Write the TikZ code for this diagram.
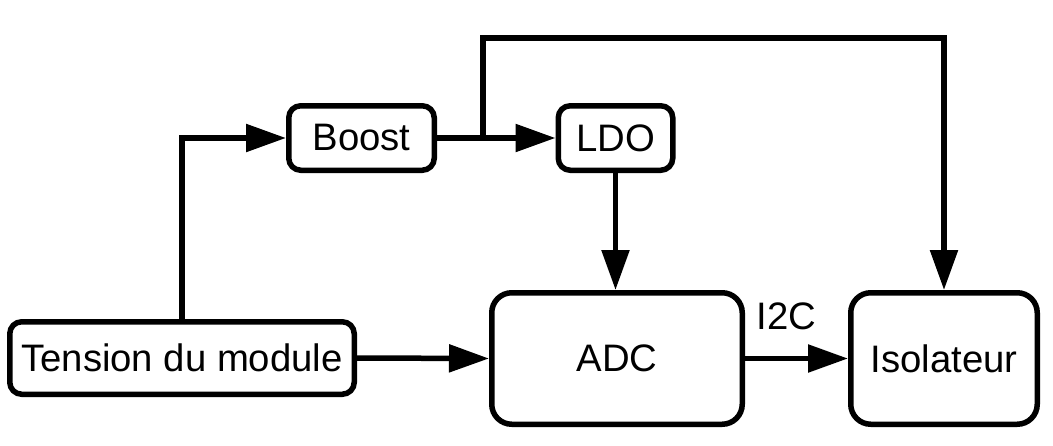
\documentclass[tikz,border=0pt]{standalone}
\usepackage{fontspec}
\setmainfont{Liberation Sans}
\usetikzlibrary{arrows.meta}
\begin{document}
\begin{tikzpicture}[x=1pt,y=-1pt,
  box/.style={draw,line width=5.5pt,inner sep=0pt,align=center,
    font=\fontsize{38.3}{44}\selectfont},
  smallbox/.style={box,rounded corners=12pt},
  bigbox/.style={box,rounded corners=20pt},
  conn/.style={line width=5.5pt,line join=miter,line cap=butt},
  arr/.style={conn,-{Triangle[length=40pt,width=27pt]}},
  lbl/.style={inner sep=0pt,font=\fontsize{38.3}{44}\selectfont}]
\useasboundingbox (0,0) rectangle (1053,445);
\node[smallbox,minimum width=344.5pt,minimum height=72.5pt] (tension) at (182,358) {Tension du module};
\node[smallbox,minimum width=145.5pt,minimum height=64.5pt] (boost) at (361.5,138) {Boost};
\node[smallbox,minimum width=114.5pt,minimum height=64.5pt] (ldo) at (615.5,138) {LDO};
\node[bigbox,minimum width=250.5pt,minimum height=131.5pt] (adc) at (617,358.5) {ADC};
\node[bigbox,minimum width=186.5pt,minimum height=131.5pt] (iso) at (944,358.5) {Isolateur};
\coordinate (b1) at (483,138);
\coordinate (b2) at (483,38);
\draw[arr] (tension.north) |- (boost.west);
\draw[arr] (boost.east) -- (ldo.west);
\draw[arr] (b1) -- (b2) -| (iso.north);
\draw[arr] (ldo.south) -- (ldo.south |- adc.north);
\draw[arr] (tension.east) -- (adc.west);
\draw[arr] (adc.east) -- node[lbl,above=26pt,xshift=-10pt] (i2c) {I2C} (iso.west);
\end{tikzpicture}
\end{document}
